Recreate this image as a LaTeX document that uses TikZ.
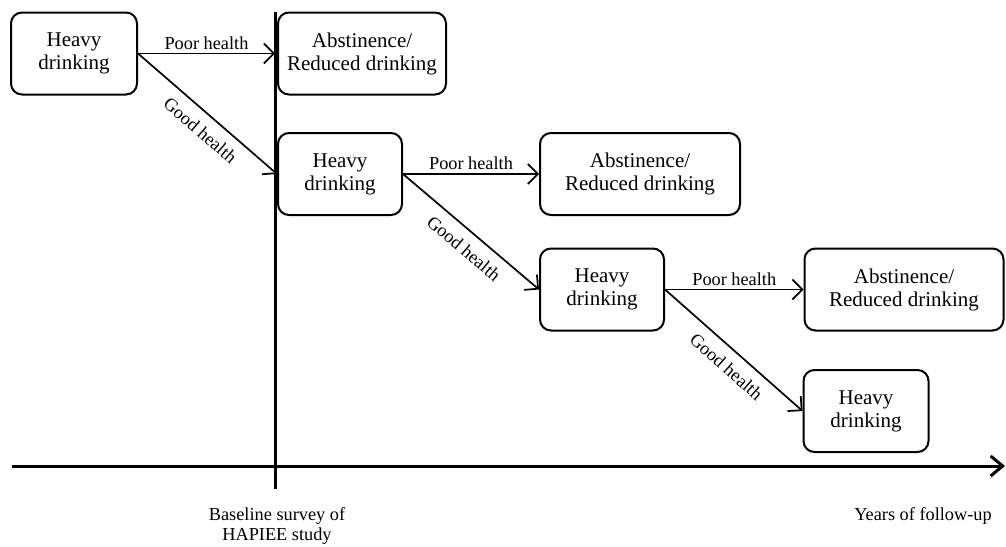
\documentclass[tikz,border=0pt]{standalone}
\usepackage{fontspec}
\setmainfont{Liberation Serif}
\usetikzlibrary{arrows.meta}
\begin{document}
\begin{tikzpicture}[x=1pt,y=-1pt,
  stage/.style={draw, line width=2pt, rounded corners=11pt, minimum height=82pt,
    align=center, inner sep=2pt, font=\fontsize{21}{23}\selectfont},
  flow/.style={line width=1.7pt, -{Straight Barb[length=10pt,width=20pt,line width=1.7pt]}},
  lbl/.style={font=\fontsize{18.3}{21}\selectfont, inner sep=3pt},
  axis/.style={line width=3pt},
]
\useasboundingbox (0,0) rectangle (1006,546);
% stage boxes
\node[stage, minimum width=126pt] (A) at (74,53.5) {Heavy\\drinking};
\node[stage, minimum width=168pt] (B) at (362,53.5) {Abstinence/\\Reduced drinking};
\node[stage, minimum width=124pt] (C) at (340,174) {Heavy\\drinking};
\node[stage, minimum width=200pt] (D) at (640,174) {Abstinence/\\Reduced drinking};
\node[stage, minimum width=124pt] (E) at (602,289.5) {Heavy\\drinking};
\node[stage, minimum width=199pt] (F) at (904,289.5) {Abstinence/\\Reduced drinking};
\node[stage, minimum width=125pt] (G) at (866,411) {Heavy\\drinking};
% time axes
\coordinate (vtop) at (275,12);
\coordinate (vbot) at (275,489);
\coordinate (hl) at (12,466);
\coordinate (hr) at (1005,466);
\draw[axis] (vtop) -- (vbot);
\draw[axis, -{Straight Barb[length=12pt,width=20pt,line width=3pt]}] (hl) -- (hr);
% transitions
\draw[flow] (A.east) -- node[lbl, above] {Poor health} ([xshift=-2pt]B.west);
\draw[flow] (A.east) -- node[lbl, pos=.53, sloped, below=7pt] {Good health} (C.west);
\draw[flow] (C.east) -- node[lbl, above] {Poor health} (D.west);
\draw[flow] (C.east) -- node[lbl, pos=.53, sloped, below=7pt] {Good health} (E.west);
\draw[flow] (E.east) -- node[lbl, above] {Poor health} (F.west);
\draw[flow] (E.east) -- node[lbl, pos=.53, sloped, below=7pt] {Good health} (G.west);
% axis labels
\node[lbl, align=center, font=\fontsize{18.3}{20.5}\selectfont] (base) at (277,526) {Baseline survey of\\HAPIEE study};
\node[lbl] (years) at (923,516) {Years of follow-up};
\end{tikzpicture}
\end{document}
